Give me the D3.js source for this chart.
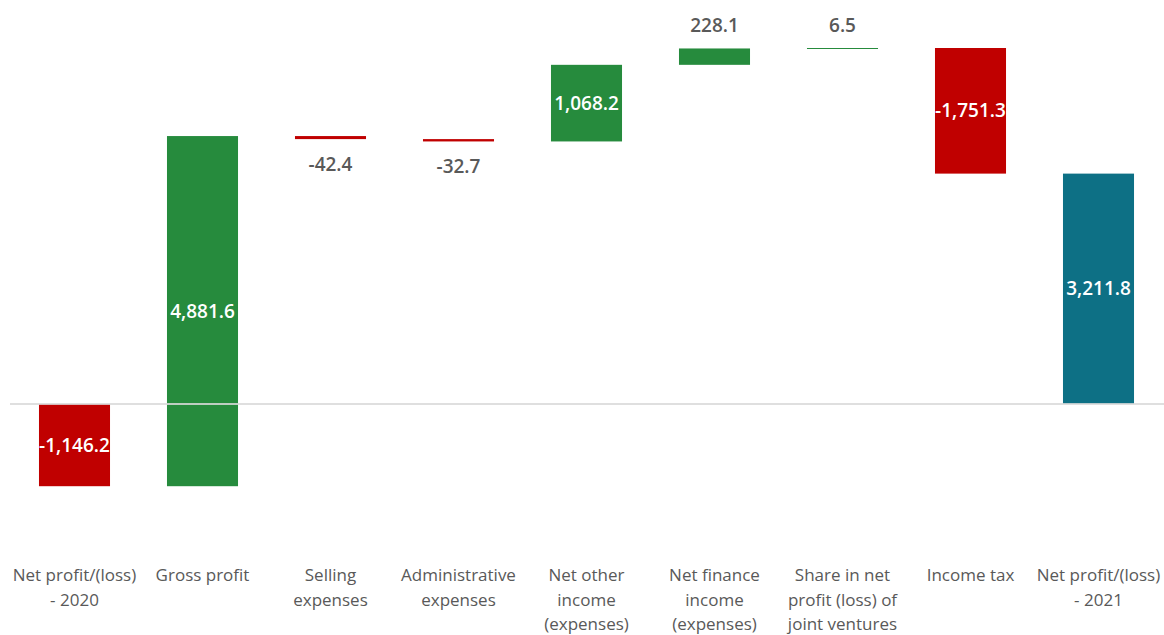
<!DOCTYPE html>
<html>
<head>
<meta charset="utf-8">
<script src="https://cdn.jsdelivr.net/npm/d3@7"></script>
<style>
  html, body { margin: 0; padding: 0; background: #ffffff; }
  svg { display: block; }
</style>
</head>
<body>
<svg id="chart" width="1164" height="635"></svg>
<script>
// Profit bridge from 2020 net result to 2021 net result (values in millions)
const categories = [
  ["Net profit/(loss)", "- 2020"],
  ["Gross profit"],
  ["Selling", "expenses"],
  ["Administrative", "expenses"],
  ["Net other", "income", "(expenses)"],
  ["Net finance", "income", "(expenses)"],
  ["Share in net", "profit (loss) of", "joint ventures"],
  ["Income tax"],
  ["Net profit/(loss)", "- 2021"]
];
const values = [-1146.2, 4881.6, -42.4, -32.7, 1068.2, 228.1, 6.5, -1751.3, 3211.8];
const kinds  = ["start", "step", "step", "step", "step", "step", "step", "step", "total"];

const colors = { up: "#268B3D", down: "#C00000", total: "#0D7085" };

// Running totals give each bar its start and end
let running = 0;
const bars = values.map((v, i) => {
  let y0, y1;
  if (kinds[i] === "total") { y0 = 0; y1 = v; running = v; }
  else { y0 = running; y1 = running + v; running = y1; }
  return { i, v, y0, y1, kind: kinds[i], label: categories[i] };
});

const svg = d3.select("#chart");
// Plain hyphen for negatives, comma thousands
const fmt = d3.formatLocale({ decimal: ".", thousands: ",", grouping: [3], currency: ["", ""], minus: "-" })
  .format(",.1f");

const x = d3.scaleBand()
  .domain(d3.range(values.length))
  .range([10.5, 1162.5])
  .paddingInner(0.445)
  .paddingOuter(0.2225);

const lo = d3.min(bars, d => Math.min(d.y0, d.y1));
const hi = d3.max(bars, d => Math.max(d.y0, d.y1));
const y = d3.scaleLinear().domain([lo, hi]).range([486.2, 48]);

function barColor(d) {
  if (d.kind === "total") return colors.total;
  return d.v < 0 ? colors.down : colors.up;
}

const g = svg.append("g");

g.selectAll("rect.bar")
  .data(bars)
  .join("rect")
  .attr("class", "bar")
  .attr("x", d => x(d.i))
  .attr("width", x.bandwidth())
  .attr("y", d => y(Math.max(d.y0, d.y1)))
  .attr("height", d => Math.max(1, Math.abs(y(d.y0) - y(d.y1))))
  .attr("fill", barColor);

// Zero baseline
svg.append("line")
  .attr("x1", 10).attr("x2", 1164)
  .attr("y1", y(0)).attr("y2", y(0))
  .attr("stroke", "#D9D9D9")
  .attr("stroke-opacity", 0.85)
  .attr("stroke-width", 2);

// Value labels: inside tall bars, outside short ones
const font = "'Open Sans', 'Noto Sans', sans-serif";
g.selectAll("text.val")
  .data(bars)
  .join("text")
  .attr("class", "val")
  .attr("x", d => x(d.i) + x.bandwidth() / 2)
  .attr("text-anchor", "middle")
  .attr("font-family", font)
  .attr("font-size", 19)
  .attr("font-weight", 600)
  .each(function (d) {
    const top = y(Math.max(d.y0, d.y1));
    const bot = y(Math.min(d.y0, d.y1));
    const t = d3.select(this);
    if (bot - top > 40) {
      t.attr("y", (top + bot) / 2).attr("dy", "0.35em").attr("fill", "#ffffff");
    } else if (d.v < 0) {
      t.attr("y", bot + 32).attr("fill", "#595959");
    } else {
      t.attr("y", top - 16).attr("fill", "#595959");
    }
  })
  .text(d => fmt(d.v));

// Category labels under the chart
const lab = svg.append("g")
  .attr("font-family", font)
  .attr("font-size", 17)
  .attr("fill", "#595959")
  .attr("text-anchor", "middle");

bars.forEach(d => {
  const t = lab.append("text")
    .attr("x", x(d.i) + x.bandwidth() / 2)
    .attr("y", 581);
  d.label.forEach((line, k) => {
    t.append("tspan")
      .attr("x", x(d.i) + x.bandwidth() / 2)
      .attr("dy", k === 0 ? 0 : 24.5)
      .text(line);
  });
});
</script>
</body>
</html>
